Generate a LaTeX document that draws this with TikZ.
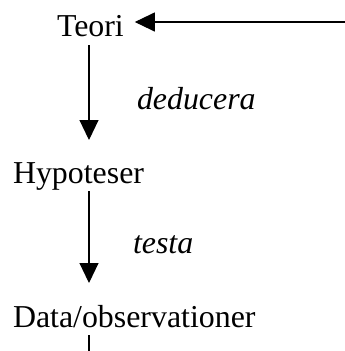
\documentclass[tikz,border=0pt]{standalone}
\usepackage{fontspec}
\setmainfont{Liberation Serif}
\usetikzlibrary{arrows.meta}
\begin{document}
\begin{tikzpicture}[x=1bp,y=-1bp,
  txt/.style={anchor=base west,inner sep=0pt,outer sep=0pt,text height=21bp,text depth=7bp,font=\fontsize{32}{38}\selectfont},
  lbl/.style={txt,font=\fontsize{32}{38}\selectfont\itshape},
  conn/.style={line width=1.1bp},
  arr/.style={conn,-{Triangle[length=20bp,width=19bp]}}]
\useasboundingbox (0,0) rectangle (345,351);
\node[txt] (teori) at (57,36) {Teori};
\node[txt] (hyp) at (13,183) {Hypoteser};
\node[txt] (data) at (13,327) {Data/observationer};
\node[lbl] (ded) at (137,109) {deducera};
\node[lbl] (test) at (133,253) {testa};
\coordinate (col) at (89,0);
\coordinate (src) at (346,22);
\coordinate (bot) at (89,352);
\draw[arr,shorten >=22bp] ([yshift=-2bp]teori.south -| col) -- (hyp.north -| col);
\draw[arr,shorten >=23bp] ([yshift=-1bp]hyp.south -| col) -- (data.north -| col);
\draw[conn] ([yshift=-1bp]data.south -| col) -- (bot);
\draw[arr,shorten >=11bp] (src) -- (src -| teori.east);
\end{tikzpicture}
\end{document}
